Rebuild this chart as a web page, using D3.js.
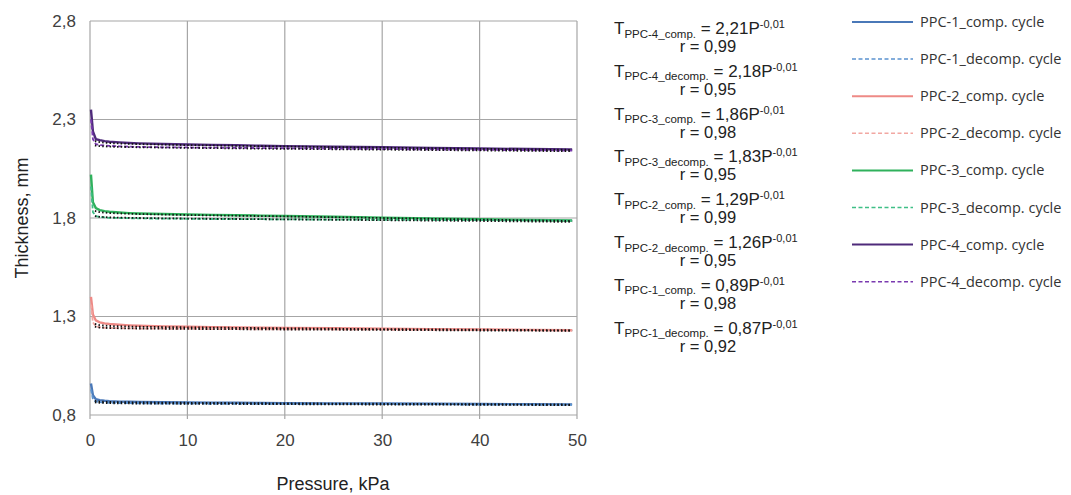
<!DOCTYPE html>
<html><head><meta charset="utf-8">
<script src="https://cdn.jsdelivr.net/npm/d3@7"></script>
<style>body{margin:0;background:#fff}svg{display:block}</style>
</head><body>
<svg id="c" width="1071" height="495"></svg>
<script>
const pressure = [0.1, 0.3, 0.6, 1, 1.5, 2, 3, 4, 5, 7.5, 10, 12.5, 15, 17.5, 20, 25, 30, 35, 40, 45, 49.5];
const ppc1Comp   = [0.96, 0.90, 0.88, 0.875, 0.872, 0.870, 0.868, 0.867, 0.866, 0.865, 0.864, 0.863, 0.862, 0.861, 0.860, 0.859, 0.858, 0.857, 0.856, 0.855, 0.854];
const ppc1Decomp = [0.93, 0.88, 0.868, 0.865, 0.863, 0.862, 0.861, 0.860, 0.859, 0.858, 0.858, 0.857, 0.857, 0.856, 0.856, 0.855, 0.855, 0.854, 0.853, 0.852, 0.851];
const ppc2Comp   = [1.40, 1.31, 1.28, 1.27, 1.265, 1.262, 1.258, 1.255, 1.253, 1.250, 1.248, 1.246, 1.245, 1.243, 1.242, 1.240, 1.238, 1.236, 1.234, 1.232, 1.230];
const ppc2Decomp = [1.36, 1.27, 1.25, 1.245, 1.243, 1.242, 1.241, 1.240, 1.239, 1.238, 1.237, 1.236, 1.236, 1.235, 1.235, 1.234, 1.233, 1.232, 1.231, 1.230, 1.229];
const ppc3Comp   = [2.02, 1.88, 1.85, 1.84, 1.835, 1.832, 1.828, 1.825, 1.823, 1.820, 1.818, 1.816, 1.814, 1.812, 1.810, 1.806, 1.802, 1.798, 1.794, 1.790, 1.787];
const ppc3Decomp = [1.96, 1.83, 1.81, 1.805, 1.803, 1.801, 1.800, 1.799, 1.798, 1.797, 1.796, 1.795, 1.795, 1.794, 1.793, 1.792, 1.791, 1.790, 1.789, 1.788, 1.787];
const ppc4Comp   = [2.35, 2.24, 2.20, 2.195, 2.19, 2.187, 2.184, 2.181, 2.179, 2.176, 2.173, 2.171, 2.169, 2.167, 2.165, 2.162, 2.159, 2.156, 2.153, 2.150, 2.148];
const ppc4Decomp = [2.30, 2.20, 2.175, 2.17, 2.168, 2.166, 2.164, 2.162, 2.161, 2.159, 2.158, 2.157, 2.156, 2.155, 2.154, 2.152, 2.150, 2.148, 2.146, 2.144, 2.142];

const fitPressure = [0.5, 1, 2, 5, 10, 20, 30, 40, 49.5];
const fit1Comp   = [0.872, 0.868, 0.866, 0.864, 0.862, 0.859, 0.857, 0.855, 0.853];
const fit1Decomp = [0.864, 0.862, 0.860, 0.858, 0.857, 0.855, 0.853, 0.852, 0.850];
const fit2Comp   = [1.262, 1.256, 1.252, 1.248, 1.245, 1.240, 1.236, 1.233, 1.230];
const fit2Decomp = [1.248, 1.244, 1.241, 1.239, 1.237, 1.234, 1.232, 1.229, 1.227];
const fit3Comp   = [1.836, 1.830, 1.825, 1.820, 1.815, 1.808, 1.800, 1.792, 1.785];
const fit3Decomp = [1.810, 1.806, 1.803, 1.800, 1.797, 1.793, 1.789, 1.785, 1.780];
const fit4Comp   = [2.190, 2.185, 2.180, 2.175, 2.170, 2.163, 2.157, 2.151, 2.146];
const fit4Decomp = [2.168, 2.165, 2.162, 2.159, 2.156, 2.151, 2.147, 2.143, 2.139];

const xTicks = [0, 10, 20, 30, 40, 50];
const yTicks = [0.8, 1.3, 1.8, 2.3, 2.8];

const seriesNames = ["PPC-1_comp. cycle","PPC-1_decomp. cycle","PPC-2_comp. cycle","PPC-2_decomp. cycle",
                     "PPC-3_comp. cycle","PPC-3_decomp. cycle","PPC-4_comp. cycle","PPC-4_decomp. cycle"];
const seriesValues = [ppc1Comp, ppc1Decomp, ppc2Comp, ppc2Decomp, ppc3Comp, ppc3Decomp, ppc4Comp, ppc4Decomp];
const fitValues = [fit1Comp, fit1Decomp, fit2Comp, fit2Decomp, fit3Comp, fit3Decomp, fit4Comp, fit4Decomp];
const seriesColors = ["#4a78b8","#5b93cf","#ee8a86","#f2a7a2","#2fb15c","#3fbf86","#4e2a7a","#7a3ab0"];

const eqSubs = ["PPC-4_comp.","PPC-4_decomp.","PPC-3_comp.","PPC-3_decomp.","PPC-2_comp.","PPC-2_decomp.","PPC-1_comp.","PPC-1_decomp."];
const eqCoefs = ["2,21","2,18","1,86","1,83","1,29","1,26","0,89","0,87"];
const eqR = ["0,99","0,95","0,98","0,95","0,99","0,95","0,98","0,92"];

const FONT = "Liberation Sans, Arial, sans-serif";
const svg = d3.select("#c");
const x = d3.scaleLinear().domain([0, 50]).range([90, 577]);
const y = d3.scaleLinear().domain([0.8, 2.8]).range([415, 21]);

// grid
const g = svg.append("g");
g.selectAll("line.v").data(xTicks).join("line")
  .attr("x1", d => x(d)).attr("x2", d => x(d)).attr("y1", y(2.8)).attr("y2", y(0.8) + 4)
  .attr("stroke", "#a6a6a6").attr("stroke-width", 1.2);
g.selectAll("line.h").data(yTicks).join("line")
  .attr("x1", x(0)).attr("x2", x(50)).attr("y1", d => y(d)).attr("y2", d => y(d))
  .attr("stroke", "#a6a6a6").attr("stroke-width", 1.2);

// axes labels via axis generators
const xAxis = svg.append("g").attr("transform", `translate(0,${y(0.8)})`)
  .call(d3.axisBottom(x).tickValues(xTicks).tickSize(0).tickPadding(19).tickFormat(d3.format("d")));
xAxis.select(".domain").remove();
xAxis.selectAll("text").attr("font-family", FONT).attr("font-size", 17).attr("fill", "#404040");

const yAxis = svg.append("g").attr("transform", `translate(${x(0)},0)`)
  .call(d3.axisLeft(y).tickValues(yTicks).tickSize(0).tickPadding(14).tickFormat(d => d3.format(".1f")(d).replace(".", ",")));
yAxis.select(".domain").remove();
yAxis.selectAll("text").attr("font-family", FONT).attr("font-size", 17).attr("fill", "#404040");

svg.append("text").attr("x", 333).attr("y", 490).attr("text-anchor", "middle")
  .attr("font-family", FONT).attr("font-size", 18).attr("fill", "#222")
  .text("Pressure, kPa");
svg.append("text").attr("transform", "translate(28,218) rotate(-90)").attr("text-anchor", "middle")
  .attr("font-family", FONT).attr("font-size", 18).attr("fill", "#222")
  .text("Thickness, mm");

// series
const line = d3.line().x((d, i) => x(pressure[i])).y(d => y(d));
const fitLine = d3.line().x((d, i) => x(fitPressure[i])).y(d => y(d));
seriesValues.forEach((vals, k) => {
  svg.append("path").datum(vals).attr("d", line).attr("fill", "none")
    .attr("stroke", seriesColors[k]).attr("stroke-width", k % 2 ? 1.8 : 2.4)
    .attr("stroke-dasharray", k % 2 ? "4,2" : null);
});
fitValues.forEach((vals, k) => {
  svg.append("path").datum(vals).attr("d", fitLine).attr("fill", "none")
    .attr("stroke", "#111").attr("stroke-width", 1.8).attr("stroke-dasharray", "1.5,2.2");
});

// equations
const eqG = svg.append("g").attr("font-family", FONT).attr("fill", "#222");
eqSubs.forEach((s, i) => {
  const yy = 34 + i * 42.8;
  const t = eqG.append("text").attr("x", 614).attr("y", yy).attr("font-size", 17);
  t.append("tspan").text("T");
  t.append("tspan").attr("font-size", 11.5).attr("dy", 3.5).text(s);
  t.append("tspan").attr("dy", -3.5).text(" = " + eqCoefs[i] + "P");
  t.append("tspan").attr("font-size", 11).attr("dy", -6).text("-0,01");
  eqG.append("text").attr("x", 708).attr("y", yy + 18).attr("text-anchor", "middle").attr("font-size", 16.5)
    .text("r = " + eqR[i]);
});

// legend
const lg = svg.append("g");
seriesNames.forEach((n, i) => {
  const yy = 22 + i * 37.1;
  lg.append("line").attr("x1", 852).attr("x2", 913).attr("y1", yy).attr("y2", yy)
    .attr("stroke", seriesColors[i]).attr("stroke-width", i % 2 ? 1.5 : 2)
    .attr("stroke-dasharray", i % 2 ? "4,2.5" : null);
  lg.append("text").attr("x", 920).attr("y", yy + 5).attr("font-size", 14.5)
    .attr("font-family", "Open Sans, Lato, sans-serif").attr("fill", "#333").text(n);
});
</script>
</body></html>
